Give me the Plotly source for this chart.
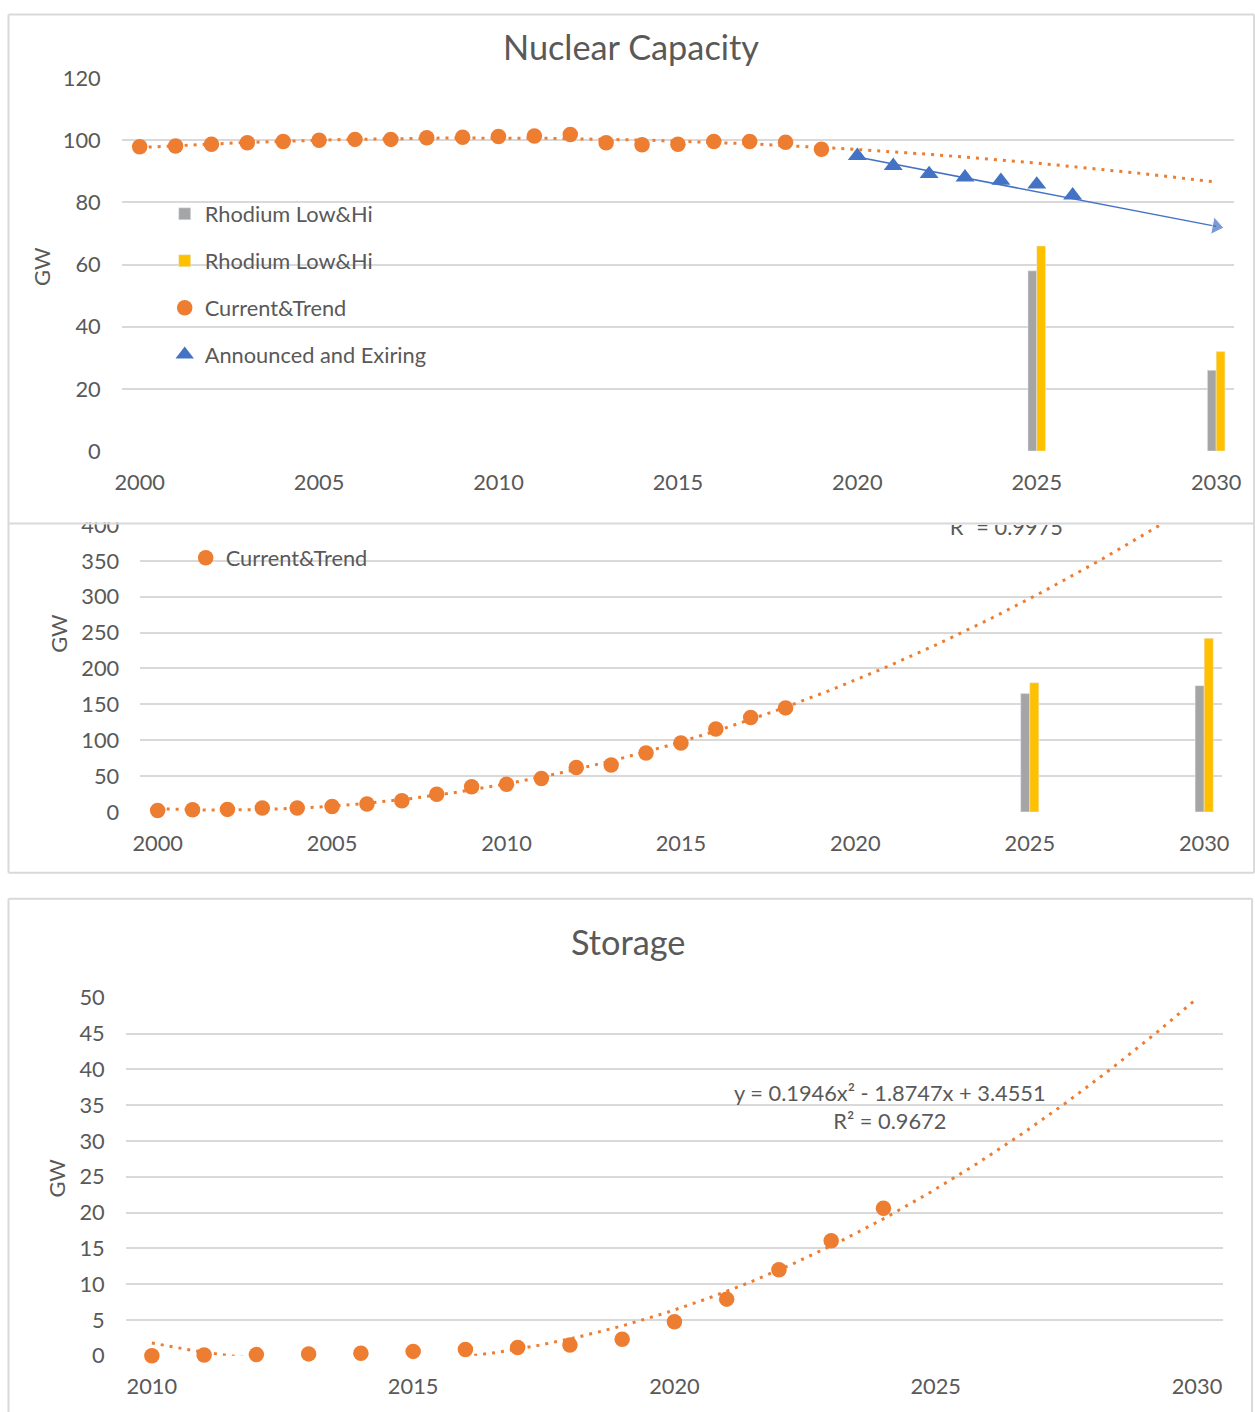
import numpy as np
import plotly.graph_objects as go

# Figure canvas and the affine placement of the canvas on the captured page
FIG_W, FIG_H = 1275, 1430
AX, BX = 7.2, 0.988
AY, BY = 12.8, 0.9815

# ---------------- Nuclear capacity (GW) ----------------
nuc_years = list(range(2000, 2020))
nuc_current = [97.9, 98.2, 98.7, 99.2, 99.6, 100.0, 100.3, 100.3, 100.8, 101.0,
               101.2, 101.4, 101.9, 99.2, 98.6, 98.7, 99.6, 99.6, 99.4, 97.1]
nuc_announced_years = list(range(2020, 2027))
nuc_announced = [95.0, 91.8, 89.2, 88.1, 87.0, 85.8, 82.3]
nuc_outlook_years = [2020, 2030]
nuc_outlook = [94.6, 72.3]
rhodium_years = [2025, 2030]
nuc_rhodium_low = [58, 26]
nuc_rhodium_high = [66, 32]

# ---------------- Middle panel (GW) ----------------
mid_years = list(range(2000, 2019))
mid_current = [2.0, 3.0, 3.5, 5.5, 5.5, 7.5, 11.0, 15.5, 24.5, 35.0,
               38.5, 46.5, 62.0, 65.5, 82.0, 96.0, 115.5, 131.5, 145.0]
mid_rhodium_low = [165, 176]
mid_rhodium_high = [180, 242]
mid_r2_label = "R² = 0.9975"

# ---------------- Storage (GW) ----------------
sto_years = list(range(2010, 2025))
sto_current = [0.0, 0.1, 0.15, 0.25, 0.35, 0.6, 0.85, 1.15, 1.5, 2.3,
               4.75, 7.9, 12.0, 16.05, 20.6]
sto_coef = [0.1946, -1.8747, 3.4551]   # y = a x^2 + b x + c, x = 1 for 2010
sto_label = "y = 0.1946x² - 1.8747x + 3.4551<br>R² = 0.9672"

x_ticks = [2000, 2005, 2010, 2015, 2020, 2025, 2030]
sto_x_ticks = [2010, 2015, 2020, 2025, 2030]

ORANGE = "#ED7D31"
BLUE = "#4472C4"
GREY = "#A5A5A5"
GOLD = "#FFC000"
TEXT = "#595959"
GRID = "#D9D9D9"
FONT = "Lato"
FS = 21.8
TITLE_FS = 34.3


def px_x(p):
    """page column -> paper fraction"""
    return max((p - AX) / BX, 0.5) / FIG_W


def px_y(p):
    """page row -> paper fraction"""
    return 1 - max((p - AY) / BY, 0.5) / FIG_H


def poly_trend(years, values, start, end, deg=2):
    x = np.asarray(years, dtype=float) - years[0] + 1
    coef = np.polyfit(x, np.asarray(values, dtype=float), deg)
    xs = np.linspace(start, end, 301)
    return xs, np.polyval(coef, xs - years[0] + 1)


fig = go.Figure()

# ---- Nuclear panel ----
fig.add_trace(go.Bar(x=rhodium_years, y=nuc_rhodium_low, name="Rhodium Low&Hi",
                     marker_color=GREY, width=0.245, offset=-0.245,
                     legendgroup="n1", legend="legend", xaxis="x", yaxis="y"))
fig.add_trace(go.Bar(x=rhodium_years, y=nuc_rhodium_high, name="Rhodium Low&Hi",
                     marker_color=GOLD, width=0.245, offset=0,
                     legendgroup="n2", legend="legend", xaxis="x", yaxis="y"))
fig.add_trace(go.Scatter(x=nuc_years, y=nuc_current, mode="markers", name="Current&Trend",
                         marker=dict(color=ORANGE, size=15.5), cliponaxis=False,
                         legendgroup="n3", legend="legend", xaxis="x", yaxis="y"))
fig.add_trace(go.Scatter(x=nuc_announced_years, y=nuc_announced, mode="markers",
                         name="Announced and Exiring",
                         marker=dict(color=BLUE, size=16.5, symbol="triangle-up"),
                         cliponaxis=False, legendgroup="n4", legend="legend",
                         xaxis="x", yaxis="y"))
tx, ty = poly_trend(nuc_years, nuc_current, 2000, 2030)
fig.add_trace(go.Scatter(x=tx, y=ty, mode="lines", showlegend=False,
                         line=dict(color=ORANGE, width=3, dash="3px,6px"),
                         xaxis="x", yaxis="y"))
fig.add_trace(go.Scatter(x=nuc_outlook_years, y=nuc_outlook, mode="lines+markers",
                         showlegend=False, cliponaxis=False,
                         line=dict(color=BLUE, width=1.5),
                         marker=dict(color=BLUE, size=[0, 15.5], symbol="triangle-up",
                                     angleref="previous"),
                         xaxis="x", yaxis="y"))

# ---- Middle panel ----
fig.add_trace(go.Bar(x=rhodium_years, y=mid_rhodium_low, marker_color=GREY,
                     width=0.26, offset=-0.26, showlegend=False,
                     xaxis="x2", yaxis="y2"))
fig.add_trace(go.Bar(x=rhodium_years, y=mid_rhodium_high, marker_color=GOLD,
                     width=0.26, offset=0, showlegend=False,
                     xaxis="x2", yaxis="y2"))
fig.add_trace(go.Scatter(x=mid_years, y=mid_current, mode="markers", name="Current&Trend",
                         marker=dict(color=ORANGE, size=15.5), cliponaxis=False,
                         legend="legend2", xaxis="x2", yaxis="y2"))
tx, ty = poly_trend(mid_years, mid_current, 2000, 2030)
fig.add_trace(go.Scatter(x=tx, y=ty, mode="lines", showlegend=False,
                         line=dict(color=ORANGE, width=3, dash="3px,6px"),
                         xaxis="x2", yaxis="y2"))
fig.add_trace(go.Scatter(x=[2024.33], y=[394], mode="text", text=[mid_r2_label],
                         textposition="middle center", cliponaxis=True,
                         textfont=dict(family=FONT, size=FS, color=TEXT),
                         showlegend=False, xaxis="x2", yaxis="y2"))

# ---- Storage panel ----
fig.add_trace(go.Scatter(x=sto_years, y=sto_current, mode="markers", name="Current&Trend",
                         marker=dict(color=ORANGE, size=15.5), cliponaxis=False,
                         showlegend=False, xaxis="x3", yaxis="y3"))
sx = np.linspace(2010, 2030, 301)
sy = np.polyval(sto_coef, sx - 2009)
fig.add_trace(go.Scatter(x=sx, y=sy, mode="lines", showlegend=False,
                         line=dict(color=ORANGE, width=3, dash="3px,6px"),
                         xaxis="x3", yaxis="y3"))

tickfont = dict(family=FONT, size=FS, color=TEXT)


def xax(dom, rng, ticks):
    return dict(domain=dom, range=rng, tickvals=ticks, showgrid=False, zeroline=False,
                showline=False, ticks="", tickfont=tickfont, ticklabelstandoff=16,
                fixedrange=True)


def yax(dom, rng, dtick, anchor):
    return dict(domain=dom, range=rng, dtick=dtick, showgrid=True, gridcolor=GRID,
                gridwidth=1.6, zeroline=False, showline=False, ticks="",
                tickfont=tickfont, ticklabelstandoff=20, anchor=anchor, fixedrange=True)


def hline(x0, x1, y):
    return dict(type="line", xref="paper", yref="paper", layer="above",
                x0=px_x(x0), x1=px_x(x1), y0=px_y(y), y1=px_y(y),
                line=dict(color=GRID, width=2))


def vline(x, y0, y1):
    return dict(type="line", xref="paper", yref="paper", layer="above",
                x0=px_x(x), x1=px_x(x), y0=px_y(y0), y1=px_y(y1),
                line=dict(color=GRID, width=2))


shapes = [
    # strip that hides the top of the middle chart behind the nuclear chart
    dict(type="rect", xref="paper", yref="paper", layer="above",
         x0=px_x(9), x1=px_x(1252), y0=px_y(521.5), y1=px_y(496),
         fillcolor="white", line=dict(width=0)),
    # nuclear frame
    hline(6.5, 1254, 5), hline(6.5, 1254, 522.5),
    vline(6.5, 5, 522.5), vline(1254, 5, 522.5),
    # middle frame
    vline(6.5, 522.5, 872), vline(1254, 522.5, 872), hline(6.5, 1254, 872),
    # storage frame
    hline(4, 1252, 898), vline(4, 898, 1440), vline(1252, 898, 1440),
]


def note(text, x, y, size=FS, angle=0):
    return dict(text=text, x=px_x(x), y=px_y(y), xref="paper", yref="paper",
                xanchor="center", yanchor="middle", textangle=angle, showarrow=False,
                font=dict(family=FONT, size=size, color=TEXT))


annotations = [
    note("Nuclear Capacity", 631, 45.5, TITLE_FS),
    note("Storage", 628, 941, TITLE_FS),
    note("GW", 40, 265, FS, -90),
    note("GW", 58, 632, FS, -90),
    note("GW", 56, 1177, FS, -90),
    dict(text=sto_label, x=2024.13, y=34.8, xref="x3", yref="y3", showarrow=False,
         xanchor="center", yanchor="middle", align="center",
         font=dict(family=FONT, size=FS, color=TEXT)),
]

legend_style = dict(font=dict(family=FONT, size=FS, color=TEXT), bgcolor="rgba(0,0,0,0)",
                    borderwidth=0, xanchor="left", yanchor="top", traceorder="grouped",
                    tracegroupgap=15.6, itemclick=False, itemdoubleclick=False)

fig.update_layout(
    width=FIG_W, height=FIG_H, autosize=False,
    margin=dict(l=0, r=0, t=0, b=0),
    paper_bgcolor="white", plot_bgcolor="white",
    font=dict(family=FONT, color=TEXT),
    barmode="overlay",
    showlegend=True,
    legend=dict(x=px_x(164), y=px_y(192), **legend_style),
    legend2=dict(x=px_x(185), y=px_y(536), **legend_style),
    xaxis=xax([px_x(121), px_x(1234)], [1999.5, 2030.5], x_ticks) | dict(anchor="y"),
    yaxis=yax([px_y(450), px_y(77)], [0, 120], 20, "x"),
    xaxis2=xax([px_x(139.5), px_x(1221.5)], [1999.5, 2030.5], x_ticks) | dict(anchor="y2"),
    yaxis2=yax([px_y(811), px_y(524)], [0, 400], 50, "x2"),
    xaxis3=xax([px_x(125), px_x(1223)], [2009.5, 2030.5], sto_x_ticks) | dict(anchor="y3"),
    yaxis3=yax([px_y(1355), px_y(997)], [0, 50], 5, "x3"),
    shapes=shapes,
    annotations=annotations,
    hovermode=False,
)

fig.write_html("out.html", config=dict(displayModeBar=False))
